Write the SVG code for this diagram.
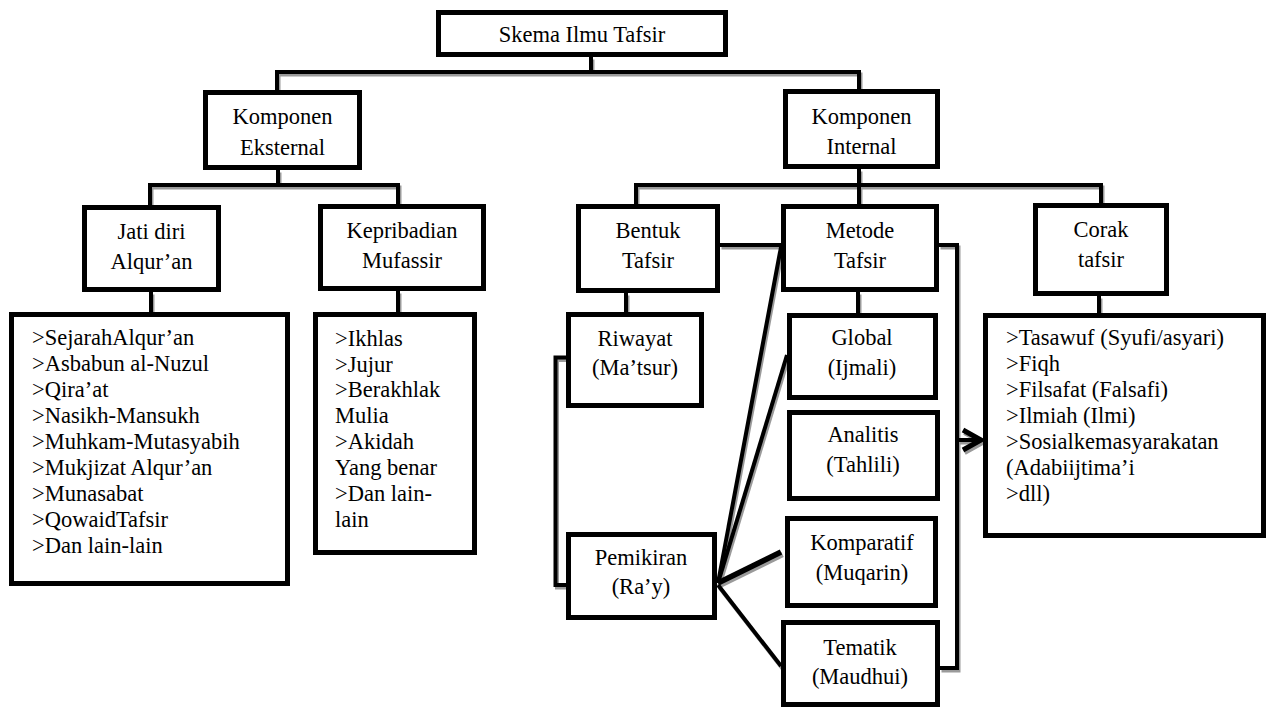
<svg xmlns="http://www.w3.org/2000/svg" xmlns:xlink="http://www.w3.org/1999/xlink" width="1269" height="709" viewBox="0 0 1269 709" font-family="'Liberation Serif', 'DejaVu Serif', serif">
<style>
.box{fill:#fff;stroke:#000;stroke-width:5}
.t{font-family:'Liberation Serif','DejaVu Serif',serif;font-size:22.5px;fill:#000}
.m{text-anchor:middle}
.ink{stroke:#000}
.shadow{stroke:#9a9a9a}
</style>
<defs>
<g id="conn-paths" fill="none" stroke-width="4" stroke-linejoin="miter">
<path d="M591,57 V72"/>
<path d="M277,90 V72 H859 V90"/>
<path d="M278,170 V185"/>
<path d="M150,205 V185 H398 V204"/>
<path d="M859,169 V185"/>
<path d="M636,204 V185 H1101 V203"/>
<path d="M859,185 V204"/>
<path d="M151,292 V312"/>
<path d="M398,291 V312"/>
<path d="M626,293 V312"/>
<path d="M858,292 V313"/>
<path d="M1099,296 V313"/>
<path d="M720,245 H781"/>
<path d="M939,245 H957 V668 H940"/>
<path d="M957,440 H981"/>
<path d="M963,430 L981,440 L963,450" stroke-width="5"/>
<path d="M566,357.5 H555.5 V585 H566"/>
<path d="M781,247 L718,583"/>
<path d="M787,355 L718,583"/>
<path d="M718,583 L781,552" stroke-width="5.5"/>
<path d="M718,585 L781,666"/>
</g>
</defs>
<rect width="1269" height="709" fill="#fff"/>
<g id="connectors">
<use xlink:href="#conn-paths" href="#conn-paths" class="shadow" transform="translate(1.5,2.5)"/>
<use xlink:href="#conn-paths" href="#conn-paths" class="ink"/>
</g>
<g id="node-skema">
<rect class="box" x="438.5" y="12.5" width="287" height="42"/>
<text class="t m" x="582" y="42">Skema Ilmu Tafsir</text>
</g>
<g id="node-eksternal">
<rect class="box" x="205.5" y="92.5" width="154" height="75"/>
<text class="t m" x="282.5" y="124">Komponen</text>
<text class="t m" x="282.5" y="155">Eksternal</text>
</g>
<g id="node-internal">
<rect class="box" x="785.5" y="91.5" width="152" height="75"/>
<text class="t m" x="861.5" y="124">Komponen</text>
<text class="t m" x="861.5" y="154">Internal</text>
</g>
<g id="node-jati">
<rect class="box" x="84.5" y="207.5" width="134" height="82"/>
<text class="t m" x="151.5" y="239">Jati diri</text>
<text class="t m" x="151.5" y="269">Alqur’an</text>
</g>
<g id="node-kepribadian">
<rect class="box" x="320.5" y="206.5" width="163" height="82"/>
<text class="t m" x="402" y="238">Kepribadian</text>
<text class="t m" x="402" y="268">Mufassir</text>
</g>
<g id="node-bentuk">
<rect class="box" x="578.5" y="206.5" width="139" height="84"/>
<text class="t m" x="648" y="238">Bentuk</text>
<text class="t m" x="648" y="268">Tafsir</text>
</g>
<g id="node-metode">
<rect class="box" x="783.5" y="206.5" width="153" height="83"/>
<text class="t m" x="860" y="238">Metode</text>
<text class="t m" x="860" y="268">Tafsir</text>
</g>
<g id="node-corak">
<rect class="box" x="1035.5" y="205.5" width="131" height="88"/>
<text class="t m" x="1101" y="237">Corak</text>
<text class="t m" x="1101" y="267">tafsir</text>
</g>
<g id="node-jati-list">
<rect class="box" x="11.5" y="314.5" width="276" height="269"/>
<text class="t" x="32" y="345">&gt;SejarahAlqur’an</text>
<text class="t" x="32" y="371">&gt;Asbabun al-Nuzul</text>
<text class="t" x="32" y="397">&gt;Qira’at</text>
<text class="t" x="32" y="423">&gt;Nasikh-Mansukh</text>
<text class="t" x="32" y="449">&gt;Muhkam-Mutasyabih</text>
<text class="t" x="32" y="475">&gt;Mukjizat Alqur’an</text>
<text class="t" x="32" y="501">&gt;Munasabat</text>
<text class="t" x="32" y="527">&gt;QowaidTafsir</text>
<text class="t" x="32" y="553">&gt;Dan lain-lain</text>
</g>
<g id="node-kepribadian-list">
<rect class="box" x="315.5" y="314.5" width="159" height="238"/>
<text class="t" x="335" y="346">&gt;Ikhlas</text>
<text class="t" x="335" y="372">&gt;Jujur</text>
<text class="t" x="335" y="397">&gt;Berakhlak</text>
<text class="t" x="335" y="423">Mulia</text>
<text class="t" x="335" y="449">&gt;Akidah</text>
<text class="t" x="335" y="475">Yang benar</text>
<text class="t" x="335" y="501">&gt;Dan lain-</text>
<text class="t" x="335" y="527">lain</text>
</g>
<g id="node-riwayat">
<rect class="box" x="568.5" y="314.5" width="133" height="91"/>
<text class="t m" x="635" y="346">Riwayat</text>
<text class="t m" x="635" y="375">(Ma’tsur)</text>
</g>
<g id="node-pemikiran">
<rect class="box" x="568.5" y="534.5" width="146" height="83"/>
<text class="t m" x="641" y="565">Pemikiran</text>
<text class="t m" x="641" y="594">(Ra’y)</text>
</g>
<g id="node-global">
<rect class="box" x="789.5" y="315.5" width="146" height="82"/>
<text class="t m" x="862" y="345">Global</text>
<text class="t m" x="862" y="375">(Ijmali)</text>
</g>
<g id="node-analitis">
<rect class="box" x="789.5" y="412.5" width="148" height="86"/>
<text class="t m" x="863" y="442">Analitis</text>
<text class="t m" x="863" y="472">(Tahlili)</text>
</g>
<g id="node-komparatif">
<rect class="box" x="787.5" y="518.5" width="148" height="87"/>
<text class="t m" x="862" y="550">Komparatif</text>
<text class="t m" x="862" y="580">(Muqarin)</text>
</g>
<g id="node-tematik">
<rect class="box" x="783.5" y="622.5" width="154" height="82"/>
<text class="t m" x="860" y="655">Tematik</text>
<text class="t m" x="860" y="684">(Maudhui)</text>
</g>
<g id="node-corak-list">
<rect class="box" x="985.5" y="315.5" width="278" height="220"/>
<text class="t" x="1006" y="345">&gt;Tasawuf (Syufi/asyari)</text>
<text class="t" x="1006" y="371">&gt;Fiqh</text>
<text class="t" x="1006" y="397">&gt;Filsafat (Falsafi)</text>
<text class="t" x="1006" y="423">&gt;Ilmiah (Ilmi)</text>
<text class="t" x="1006" y="449">&gt;Sosialkemasyarakatan</text>
<text class="t" x="1006" y="475">(Adabiijtima’i</text>
<text class="t" x="1006" y="501">&gt;dll)</text>
</g>
</svg>
